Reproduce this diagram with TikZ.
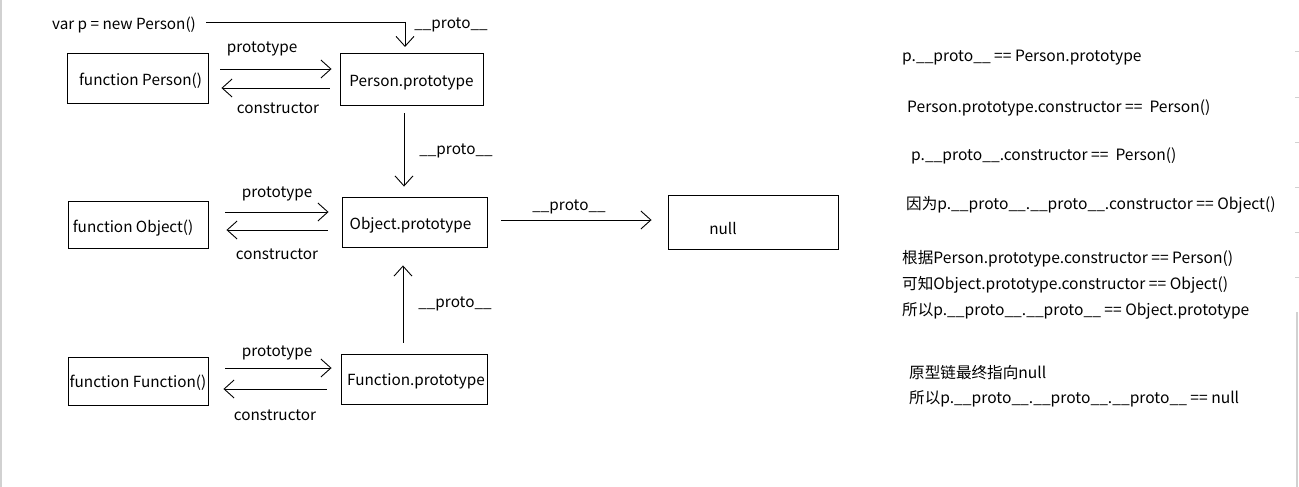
\documentclass[tikz,border=0pt]{standalone}
\usepackage{fontspec}
\setmainfont{Noto Sans CJK SC}
\usetikzlibrary{arrows.meta}
\newcommand\protoU{\_\_proto\_\_}
\begin{document}
\begin{tikzpicture}[x=1pt,y=-1pt,
  box/.style={draw,line width=0.9pt,inner sep=0pt,font=\fontsize{15.3}{17}\selectfont,
    text height=15pt,text depth=0pt},
  txt/.style={inner sep=0pt,yshift=-3pt,font=\fontsize{15.3}{17}\selectfont},
  rt/.style={inner sep=0pt,anchor=west,yshift=-2pt,font=\fontsize{15.6}{17}\selectfont},
  arr/.style={line width=0.9pt,-{Straight Barb[length=10pt,width=18pt,line width=0.9pt]}},
  edge/.style={draw=black!18,line width=2pt}]
\useasboundingbox (0,0) rectangle (1299,487);
\fill[white] (0,0) rectangle (1299,487);
\draw[edge] (1,0) -- (1,487);
\draw[edge] (1297,312) -- (1297,487);
\foreach \yy in {52,97,142,187,232,277} \draw[black!18,line width=1pt] (1295,\yy) -- (1299,\yy);

% boxes
\node[box,minimum width=141pt,minimum height=50pt] (fperson) at (137.5,78) {\hspace*{6pt}function Person()};
\node[box,minimum width=143pt,minimum height=52pt] (pperson) at (411.5,79) {Person.prototype};
\node[box,minimum width=140pt,minimum height=47pt] (fobject) at (138,224.5) {\hspace*{-10pt}function Object()};
\node[box,minimum width=145pt,minimum height=50pt] (oproto) at (414.5,222) {\hspace*{-8pt}Object.prototype};
\node[box,minimum width=140pt,minimum height=48pt,text height=12pt] (ffunc) at (138,381) {function Function()};
\node[box,minimum width=146pt,minimum height=50pt,text height=12pt] (fproto) at (414,379) {\hspace*{4pt}Function.prototype};
\node[box,minimum width=170pt,minimum height=54pt] (null) at (753,222) {};
\node[txt] (nulltxt) at (723,226) {null};

% var p
\node[txt] (varp) at (124,22) {var p = new Person()};
\coordinate (topturn) at (405,22);
\coordinate (toptip) at (405,47);
\draw[line width=0.9pt] ([xshift=10pt]varp.east |- topturn) -- (topturn);
\draw[arr] (topturn) -- (toptip);
\node[txt] (lproto0) at (451,22) {\protoU};

% Person row
\draw[arr] ([shift={(12,-9)}]fperson.east) -- ([shift={(-8,-10)}]pperson.west);
\draw[arr] ([shift={(-10,9)}]pperson.west) -- ([shift={(13,10)}]fperson.east);
\node[txt] (lp1) at (262,46) {prototype};
\node[txt] (lc1) at (278,105) {constructor};

% Person.prototype -> Object.prototype
\draw[arr] ([shift={(-7.5,8)}]pperson.south) -- ([shift={(-10.5,-10)}]oproto.north);
\node[txt] (lproto1) at (456,148) {\protoU};

% Object row
\draw[arr] ([shift={(17,-12.5)}]fobject.east) -- ([shift={(-13,-10)}]oproto.west);
\draw[arr] ([shift={(-14,8)}]oproto.west) -- ([shift={(18,5.5)}]fobject.east);
\node[txt] (lp2) at (277,191) {prototype};
\node[txt] (lc2) at (277,251) {constructor};

% Object.prototype -> null
\draw[arr] ([shift={(14,-2)}]oproto.east) -- ([shift={(-16,-2)}]null.west);
\node[txt] (lproto3) at (569,204) {\protoU};

% Function.prototype -> Object.prototype
\draw[arr] ([shift={(-11,-11)}]fproto.north) -- ([shift={(-11.5,18)}]oproto.south);
\node[txt] (lproto2) at (455,301) {\protoU};

% Function row
\draw[arr] ([shift={(17,-13)}]ffunc.east) -- ([shift={(-9,-11)}]fproto.west);
\draw[arr] ([shift={(-14,10)}]fproto.west) -- ([shift={(15,8)}]ffunc.east);
\node[txt] (lp3) at (277,350) {prototype};
\node[txt] (lc3) at (275,412) {constructor};

% right text
\node[rt] (r1) at (902,56) {p.\protoU{} == Person.prototype};
\node[rt] (r2) at (907,106) {Person.prototype.constructor ==~~Person()};
\node[rt] (r3) at (911,154) {p.\protoU.constructor ==~~Person()};
\node[rt] (r4) at (906,203) {因为p.\protoU.\protoU.constructor == Object()};
\node[rt] (r5) at (902,257) {根据Person.prototype.constructor == Person()};
\node[rt] (r6) at (902,283) {可知Object.prototype.constructor == Object()};
\node[rt] (r7) at (902,309) {所以p.\protoU.\protoU{} == Object.prototype};
\node[rt] (r8) at (909,371) {原型链最终指向null};
\node[rt] (r9) at (909,397) {所以p.\protoU.\protoU.\protoU{} == null};
\end{tikzpicture}
\end{document}
